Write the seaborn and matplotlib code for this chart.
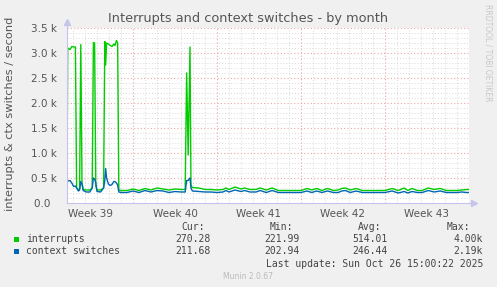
import matplotlib
matplotlib.use("Agg")
import matplotlib.pyplot as plt
import pandas as pd
import seaborn as sns
from matplotlib.patches import Rectangle

# ---------------- data (days since left edge of graph) ----------------
days = [0.00, 0.06, 0.25, 0.40, 0.55, 0.70, 0.80, 0.95, 1.05, 1.15, 1.25, 1.35, 1.60, 1.90,
        2.10, 2.20, 2.30, 2.40, 2.50, 2.80, 3.05, 3.15, 3.22, 3.30, 3.45, 3.60, 3.75, 3.90,
        4.00, 4.12, 4.22, 4.32,
        4.5, 5.0, 5.5, 6.0, 6.5, 7.0, 7.5, 8.0, 8.5, 9.0, 9.5,
        9.85, 9.97, 10.10, 10.25, 10.33, 10.45,
        11.0, 11.5, 12.0, 12.5, 13.0, 13.25, 13.5, 14.0, 14.5, 14.8, 15.25, 15.75, 16.1, 16.6,
        17.1, 17.6, 18.0, 18.5, 19.0, 19.5, 20.0, 20.4, 20.8, 21.25, 21.7, 22.2, 22.6, 22.9,
        23.2, 23.6, 24.1, 24.6, 25.0, 25.5, 26.0, 26.5, 27.1, 27.6, 28.1, 28.4, 28.75, 29.2,
        29.6, 30.1, 30.6, 31.1, 31.6, 32.0, 32.5, 32.9, 33.3, 33.5]

interrupts = [420, 3100, 3070, 3130, 3120, 3120, 300, 270, 280, 3170, 400, 270, 260, 260,
              300, 3210, 3200, 350, 260, 260, 300, 3230, 2760, 3200, 3180, 3150, 3130, 3180,
              3150, 3250, 3200, 260,
              250, 250, 280, 250, 290, 260, 300, 280, 260, 280, 270,
              270, 2600, 960, 3120, 350, 310,
              300, 270, 270, 260, 270, 300, 270, 320, 280, 300, 270, 270, 300, 260,
              300, 250, 250, 250, 250, 250, 290, 260, 290, 250, 290, 250, 260, 290,
              300, 260, 290, 250, 250, 250, 250, 250, 290, 250, 300, 250, 290, 250,
              250, 300, 270, 290, 250, 250, 250, 260, 270, 270]

ctx_switches = [400, 440, 450, 400, 330, 340, 300, 240, 260, 430, 380, 250, 220, 220,
                300, 500, 480, 400, 230, 220, 300, 450, 690, 500, 380, 350, 370, 430,
                430, 400, 360, 220,
                210, 210, 240, 210, 250, 220, 250, 240, 210, 230, 220,
                220, 450, 450, 500, 300, 240,
                230, 220, 220, 210, 220, 250, 220, 260, 230, 250, 220, 220, 250, 210,
                250, 210, 210, 210, 210, 210, 240, 210, 240, 210, 240, 210, 210, 240,
                250, 210, 240, 210, 210, 210, 210, 210, 240, 200, 230, 200, 230, 210,
                210, 250, 220, 240, 210, 210, 210, 220, 210, 210]

series_names = ["interrupts", "context switches"]
series_colors = ["#00CC00", "#0066B3"]

week_labels = ["Week 39", "Week 40", "Week 41", "Week 42", "Week 43"]
week_label_days = [2.0, 9.0, 16.0, 23.0, 30.0]
week_boundaries = [5.5, 12.5, 19.5, 26.5]

y_ticks = [0, 500, 1000, 1500, 2000, 2500, 3000, 3500]
y_tick_labels = ["0.0  ", "0.5 k", "1.0 k", "1.5 k", "2.0 k", "2.5 k", "3.0 k", "3.5 k"]

legend_cur = ["270.28", "211.68"]
legend_min = ["221.99", "202.94"]
legend_avg = ["514.01", "246.44"]
legend_max = ["4.00k", "2.19k"]

title = "Interrupts and context switches - by month"
ylabel = "interrupts & ctx switches / second"
last_update = "Last update: Sun Oct 26 15:00:22 2025"
footer = "Munin 2.0.67"
watermark = "RRDTOOL / TOBI OETIKER"

# ---------------- layout ----------------
W, H = 497, 287
X0, X1, YT, YB = 67, 469, 28, 203
XMAX = 33.5


def fx(x):
    return x / W


def fy(y):
    return 1 - y / H


fig = plt.figure(figsize=(W / 100, H / 100), dpi=100, facecolor="#F0F0F0")
ax = fig.add_axes([fx(X0), fy(YB), (X1 - X0) / W, (YB - YT) / H])
ax.set_facecolor("white")
ax.set_xlim(0, XMAX)
ax.set_ylim(0, 3500)

# grid
minor_col = "#D9D9D9"
major_col = "#E8A8A8"
dot = (0, (1, 2))
for k in range(34):
    d = k + 0.5
    if d in week_boundaries or d > XMAX:
        continue
    ax.axvline(d, color=minor_col, lw=0.7, ls=dot, zorder=0)
for v in range(100, 3501, 100):
    if v % 500 == 0:
        continue
    ax.axhline(v, color=minor_col, lw=0.7, ls=dot, zorder=0)
for d in week_boundaries:
    ax.axvline(d, color=major_col, lw=0.8, ls=dot, zorder=0.5)
for v in y_ticks[1:]:
    ax.axhline(v, color=major_col, lw=0.8, ls=dot, zorder=0.5)

# data
df = pd.DataFrame({
    "day": days + days,
    "value": interrupts + ctx_switches,
    "series": [series_names[0]] * len(days) + [series_names[1]] * len(days),
})
sns.lineplot(data=df, x="day", y="value", hue="series",
             palette=dict(zip(series_names, series_colors)),
             estimator=None, legend=False, ax=ax, linewidth=1.0, zorder=3)

# axes decoration
for s in ax.spines.values():
    s.set_visible(False)
axis_col = "#C4C4EC"
ax.plot([0, 0], [0, 1.03], transform=ax.transAxes, color=axis_col, lw=0.8,
        clip_on=False, zorder=4)
ax.plot([0, 1.01], [0, 0], transform=ax.transAxes, color=axis_col, lw=0.8,
        clip_on=False, zorder=4)
ax.plot([0], [1.035], marker="^", ms=4, color=axis_col, transform=ax.transAxes,
        clip_on=False, zorder=4)
ax.plot([1.012], [0], marker=">", ms=4, color=axis_col, transform=ax.transAxes,
        clip_on=False, zorder=4)

ax.set_yticks(y_ticks)
ax.set_yticklabels(y_tick_labels)
ax.set_xticks(week_label_days)
ax.set_xticklabels(week_labels)
ax.tick_params(axis="both", length=0, labelsize=7.5, labelcolor="#555555")
ax.tick_params(axis="y", pad=7)
ax.tick_params(axis="x", pad=4)
ax.set_xlabel("")
ax.set_ylabel("")

# texts
fig.text(fx(248), fy(18.5), title, ha="center", va="center", fontsize=9.3, color="#555555")
fig.text(fx(10), fy(114), ylabel, ha="center", va="center", rotation=90,
         fontsize=8.2, color="#555555")
fig.text(fx(488), fy(53), watermark, ha="center", va="center", rotation=270,
         fontsize=5.5, color="#C8C8C8")

mono = dict(family="DejaVu Sans Mono", fontsize=7, color="#444444")
fig.text(fx(204.5), fy(227.5), "Cur:", ha="right", va="center", **mono)
fig.text(fx(293.5), fy(227.5), "Min:", ha="right", va="center", **mono)
fig.text(fx(381.5), fy(227.5), "Avg:", ha="right", va="center", **mono)
fig.text(fx(470.5), fy(227.5), "Max:", ha="right", va="center", **mono)
rows_y = [239.5, 251.5]
for i, name in enumerate(series_names):
    y = rows_y[i]
    fig.patches.append(Rectangle((fx(14), fy(y + 2.5)), 5 / W, 5 / H,
                                 transform=fig.transFigure, facecolor=series_colors[i],
                                 edgecolor="none"))
    fig.text(fx(26.5), fy(y), name, ha="left", va="center", **mono)
    fig.text(fx(211), fy(y), legend_cur[i], ha="right", va="center", **mono)
    fig.text(fx(299.5), fy(y), legend_min[i], ha="right", va="center", **mono)
    fig.text(fx(388), fy(y), legend_avg[i], ha="right", va="center", **mono)
    fig.text(fx(483), fy(y), legend_max[i], ha="right", va="center", **mono)
fig.text(fx(483), fy(264), last_update, ha="right", va="center", **mono)
fig.text(fx(248), fy(276.5), footer, ha="center", va="center", fontsize=5.5, color="#BBBBBB")

fig.savefig("out.png", dpi=100, facecolor=fig.get_facecolor())
